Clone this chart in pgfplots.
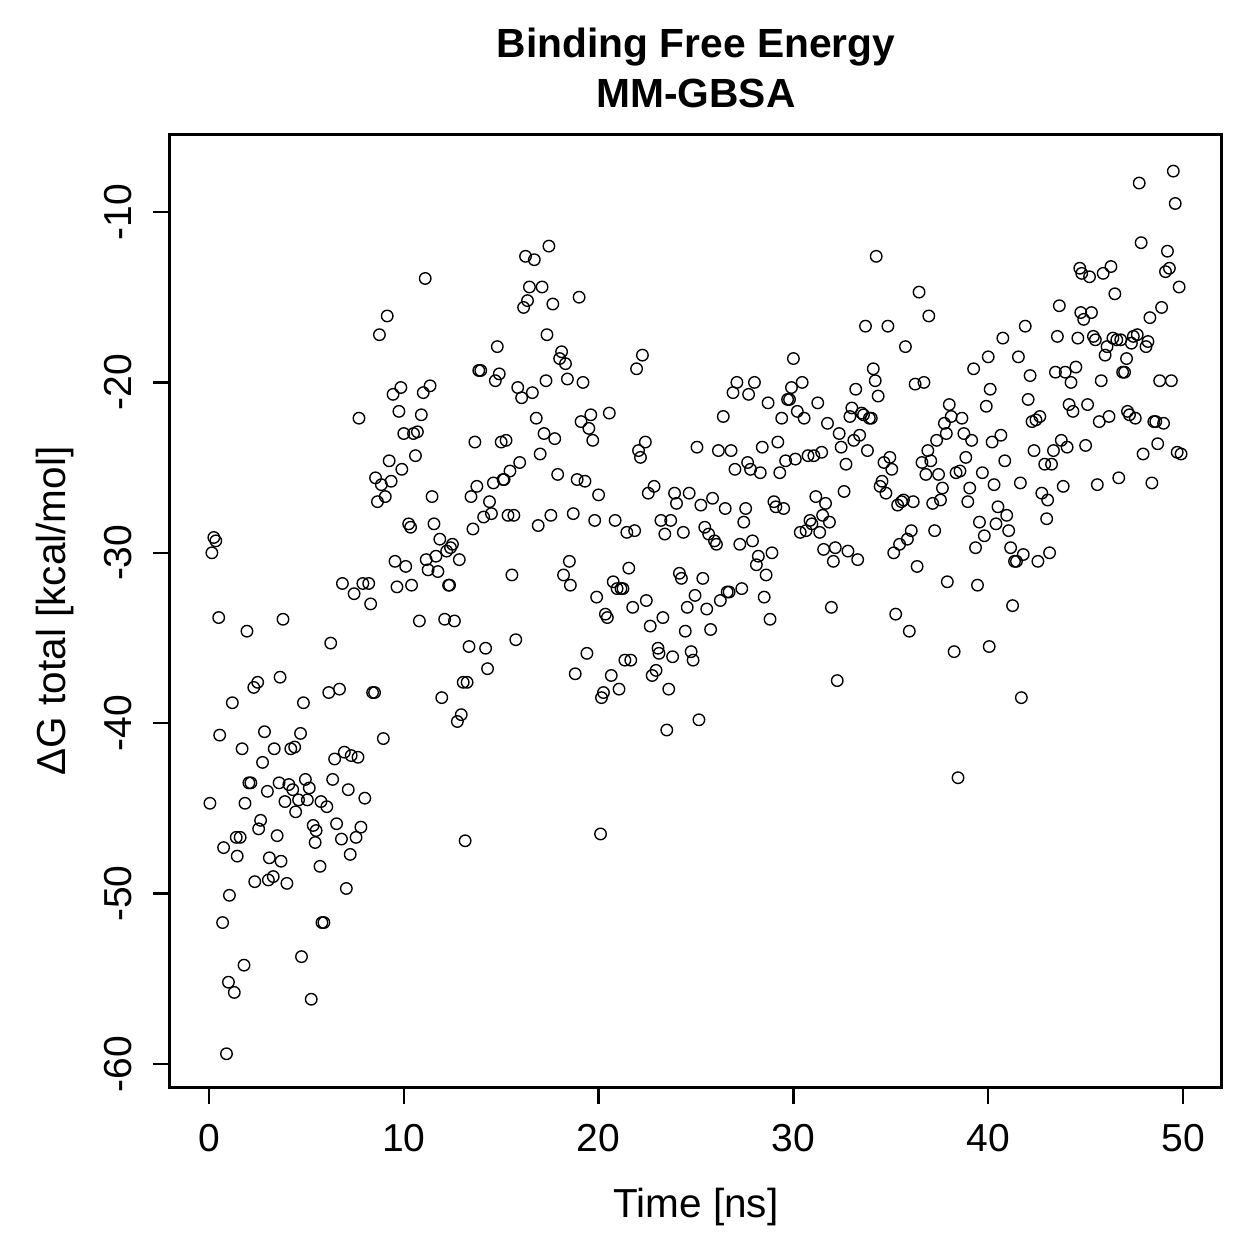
\documentclass[border=0pt]{standalone}
\usepackage{fontspec}
\setmainfont{Liberation Sans}
\usepackage{pgfplots}
\pgfplotsset{compat=1.18}
\usepackage{pgfplotstable}

% MM-GBSA binding free energy per frame: time [ns], Delta G total [kcal/mol]
\pgfplotstableread{
t dg
0.05 -44.7
0.15 -30.0
0.25 -29.1
0.35 -29.3
0.5 -33.8
0.55 -40.7
0.7 -51.7
0.75 -47.3
0.9 -59.4
1.0 -55.2
1.05 -50.1
1.2 -38.8
1.3 -55.8
1.4 -46.7
1.45 -47.8
1.6 -46.7
1.7 -41.5
1.8 -54.2
1.85 -44.7
1.95 -34.6
2.05 -43.5
2.15 -43.5
2.3 -37.9
2.35 -49.3
2.5 -37.6
2.55 -46.2
2.65 -45.7
2.75 -42.3
2.85 -40.5
3.0 -44.0
3.05 -49.2
3.1 -47.9
3.3 -49.0
3.35 -41.5
3.5 -46.6
3.6 -43.5
3.65 -37.3
3.7 -48.1
3.8 -33.9
3.9 -44.6
4.0 -49.4
4.1 -43.6
4.2 -41.5
4.3 -43.9
4.4 -41.4
4.45 -45.2
4.6 -44.5
4.7 -40.6
4.75 -53.7
4.85 -38.8
4.95 -43.3
5.05 -44.5
5.15 -43.8
5.25 -56.2
5.35 -46.0
5.45 -47.0
5.5 -46.3
5.7 -48.4
5.75 -44.6
5.8 -51.7
5.9 -51.7
6.05 -44.9
6.15 -38.2
6.25 -35.3
6.35 -43.3
6.45 -42.1
6.55 -45.9
6.7 -38.0
6.8 -46.8
6.85 -31.8
6.95 -41.7
7.05 -49.7
7.15 -43.9
7.25 -47.7
7.3 -41.9
7.45 -32.4
7.55 -46.7
7.65 -42.0
7.7 -22.1
7.8 -46.1
7.9 -31.8
8.0 -44.4
8.2 -31.8
8.3 -33.0
8.4 -38.2
8.5 -38.2
8.55 -25.6
8.65 -27.0
8.75 -17.2
8.85 -26.0
8.95 -40.9
9.05 -26.7
9.15 -16.1
9.25 -24.6
9.35 -25.8
9.45 -20.7
9.55 -30.5
9.65 -32.0
9.75 -21.7
9.85 -20.3
9.9 -25.1
10.0 -23.0
10.1 -30.8
10.25 -28.3
10.35 -28.5
10.4 -31.9
10.5 -23.0
10.6 -24.3
10.7 -22.9
10.8 -34.0
10.9 -21.9
11.0 -20.6
11.1 -13.9
11.15 -30.4
11.25 -31.0
11.35 -20.2
11.45 -26.7
11.55 -28.3
11.65 -30.2
11.75 -31.1
11.85 -29.2
11.95 -38.5
12.1 -33.9
12.2 -29.9
12.3 -31.9
12.35 -31.9
12.4 -29.7
12.5 -29.5
12.6 -34.0
12.75 -39.9
12.85 -30.4
12.95 -39.5
13.05 -37.6
13.15 -46.9
13.25 -37.6
13.35 -35.5
13.45 -26.7
13.55 -28.6
13.65 -23.5
13.75 -26.1
13.85 -19.3
13.95 -19.3
14.1 -27.9
14.2 -35.6
14.3 -36.8
14.4 -27.0
14.5 -27.7
14.6 -25.9
14.7 -19.9
14.8 -17.9
14.9 -19.5
15.0 -23.5
15.1 -25.7
15.15 -25.7
15.25 -23.4
15.35 -27.8
15.45 -25.2
15.55 -31.3
15.65 -27.8
15.75 -35.1
15.85 -20.3
15.95 -24.7
16.05 -20.9
16.15 -15.6
16.25 -12.6
16.35 -15.2
16.45 -14.4
16.6 -20.6
16.7 -12.8
16.8 -22.1
16.9 -28.4
17.0 -24.2
17.1 -14.4
17.2 -23.0
17.3 -19.9
17.35 -17.2
17.45 -12.0
17.55 -27.8
17.65 -15.4
17.75 -23.3
17.9 -25.4
18.0 -18.6
18.1 -18.2
18.2 -31.3
18.3 -18.9
18.4 -19.8
18.5 -30.5
18.55 -31.9
18.7 -27.7
18.8 -37.1
18.9 -25.7
19.0 -15.0
19.1 -22.3
19.2 -20.0
19.3 -25.8
19.4 -35.9
19.5 -22.7
19.6 -21.9
19.7 -23.4
19.8 -28.1
19.9 -32.6
20.0 -26.6
20.1 -46.5
20.15 -38.5
20.25 -38.2
20.35 -33.6
20.45 -33.8
20.55 -21.8
20.65 -37.2
20.75 -31.7
20.85 -28.1
20.95 -32.1
21.05 -38.0
21.15 -32.1
21.25 -32.1
21.35 -36.3
21.45 -28.8
21.55 -30.9
21.65 -36.3
21.75 -33.2
21.85 -28.7
21.95 -19.2
22.05 -24.0
22.15 -24.4
22.25 -18.4
22.4 -23.5
22.45 -32.8
22.55 -26.5
22.65 -34.3
22.75 -37.2
22.85 -26.1
22.95 -36.9
23.05 -35.6
23.1 -35.9
23.2 -28.1
23.3 -33.8
23.4 -28.9
23.5 -40.4
23.6 -38.0
23.7 -28.1
23.8 -36.1
23.9 -26.5
24.0 -27.1
24.15 -31.2
24.25 -31.5
24.35 -28.8
24.45 -34.6
24.55 -33.2
24.65 -26.5
24.75 -35.8
24.85 -36.3
24.95 -32.5
25.05 -23.8
25.15 -39.8
25.25 -27.2
25.35 -31.5
25.45 -28.5
25.55 -33.3
25.65 -28.9
25.75 -34.5
25.85 -26.8
25.95 -29.3
26.05 -29.5
26.15 -24.0
26.25 -32.8
26.4 -22.0
26.5 -27.4
26.6 -32.3
26.7 -32.3
26.8 -24.0
26.9 -20.6
27.0 -25.1
27.1 -20.0
27.25 -29.5
27.35 -32.1
27.45 -28.2
27.55 -27.4
27.65 -24.7
27.7 -20.7
27.8 -25.1
27.9 -29.3
28.0 -20.0
28.1 -30.7
28.2 -30.2
28.3 -25.3
28.4 -23.8
28.5 -32.6
28.6 -31.3
28.7 -21.2
28.8 -33.9
28.9 -30.0
29.0 -27.0
29.1 -27.3
29.2 -23.5
29.3 -25.3
29.4 -22.1
29.5 -27.4
29.6 -24.6
29.7 -21.0
29.8 -21.0
29.9 -20.3
30.0 -18.6
30.1 -24.5
30.2 -21.7
30.35 -28.8
30.45 -20.0
30.55 -22.1
30.65 -28.7
30.75 -24.3
30.85 -28.1
30.95 -28.3
31.05 -24.3
31.15 -26.7
31.25 -21.2
31.35 -28.8
31.45 -24.1
31.5 -27.8
31.55 -29.8
31.65 -27.1
31.75 -22.4
31.85 -28.2
31.95 -33.2
32.05 -30.5
32.15 -29.7
32.25 -37.5
32.35 -23.0
32.45 -23.8
32.6 -26.4
32.7 -24.8
32.8 -29.9
32.9 -22.0
33.0 -21.5
33.1 -23.4
33.2 -20.4
33.3 -30.4
33.4 -23.1
33.5 -21.8
33.6 -21.9
33.7 -16.7
33.8 -24.0
33.9 -22.1
34.0 -22.1
34.1 -19.2
34.2 -19.9
34.25 -12.6
34.35 -20.8
34.45 -26.1
34.55 -25.8
34.65 -24.7
34.75 -26.5
34.85 -16.7
34.95 -24.4
35.05 -25.1
35.15 -30.0
35.25 -33.6
35.35 -27.2
35.45 -29.5
35.55 -27.0
35.65 -26.9
35.75 -17.9
35.85 -29.2
35.95 -34.6
36.05 -28.7
36.15 -27.0
36.25 -20.1
36.35 -30.8
36.45 -14.7
36.6 -24.7
36.7 -20.0
36.8 -25.4
36.9 -24.0
36.95 -16.1
37.05 -24.6
37.15 -27.1
37.25 -28.7
37.35 -23.4
37.45 -25.4
37.55 -26.9
37.65 -26.2
37.75 -22.4
37.85 -23.0
37.9 -31.7
38.0 -21.3
38.1 -22.0
38.25 -35.8
38.35 -25.3
38.45 -43.2
38.55 -25.2
38.65 -22.1
38.75 -23.0
38.85 -24.4
38.95 -27.0
39.05 -26.2
39.15 -23.4
39.25 -19.2
39.35 -29.7
39.45 -31.9
39.55 -28.2
39.7 -25.3
39.8 -29.0
39.9 -21.4
40.0 -18.5
40.05 -35.5
40.1 -20.4
40.2 -23.5
40.3 -26.0
40.4 -28.3
40.5 -27.3
40.65 -23.1
40.75 -17.4
40.85 -24.6
40.95 -27.8
41.05 -28.7
41.15 -29.7
41.25 -33.1
41.35 -30.5
41.45 -30.5
41.55 -18.5
41.65 -25.9
41.7 -38.5
41.8 -30.1
41.9 -16.7
42.05 -21.0
42.15 -19.6
42.25 -22.3
42.35 -24.0
42.45 -22.2
42.55 -30.5
42.65 -22.0
42.75 -26.5
42.9 -24.8
43.0 -28.0
43.05 -26.9
43.15 -30.0
43.25 -24.8
43.35 -24.0
43.45 -19.4
43.55 -17.3
43.65 -15.5
43.75 -23.4
43.85 -26.1
43.95 -19.4
44.05 -23.8
44.15 -21.3
44.25 -20.0
44.35 -21.7
44.5 -19.1
44.6 -17.4
44.7 -13.3
44.75 -15.9
44.8 -13.6
44.9 -16.3
45.0 -23.7
45.1 -21.3
45.2 -13.8
45.3 -15.9
45.4 -17.3
45.5 -17.5
45.6 -26.0
45.7 -22.3
45.8 -19.9
45.9 -13.6
46.0 -18.4
46.1 -17.9
46.2 -22.0
46.3 -13.2
46.4 -17.4
46.5 -14.8
46.6 -17.5
46.7 -25.6
46.8 -17.5
46.9 -19.4
47.0 -19.4
47.1 -18.6
47.15 -21.7
47.25 -21.9
47.35 -17.7
47.45 -17.3
47.55 -22.1
47.65 -17.2
47.75 -8.3
47.85 -11.8
47.95 -24.2
48.1 -17.9
48.2 -17.6
48.3 -16.2
48.4 -25.9
48.5 -22.3
48.6 -22.3
48.7 -23.6
48.8 -19.9
48.9 -15.6
49.0 -22.4
49.1 -13.5
49.2 -12.3
49.3 -13.3
49.4 -19.9
49.5 -7.6
49.6 -9.5
49.7 -24.1
49.8 -14.4
49.9 -24.2
}\gbsa

\begin{document}
\begin{tikzpicture}
\path[use as bounding box] (-68pt,-68.8pt) rectangle (435.6pt,434.8pt);
\begin{axis}[
  at={(0,0)}, anchor=south west,
  scale only axis, width=420.8pt, height=380.8pt,
  xmin=-2, xmax=52, ymin=-61.35, ymax=-5.48,
  xtick={0,10,20,30,40,50},
  ytick={-60,-50,-40,-30,-20,-10},
  tick align=outside,
  xtick pos=bottom, ytick pos=left,
  major tick length=6.8pt,
  axis line style={line width=1.2pt},
  tick style={line width=1pt, black},
  /pgf/number format/assume math mode=true,
  ticklabel style={font=\fontsize{15.6}{19}\selectfont},
  xticklabel style={anchor=base, inner sep=0pt, yshift=-18.8pt},
  yticklabel style={xshift=-8.4pt, rotate=90, anchor=base, inner sep=0pt},
  every axis x label/.style={at={(axis description cs:0.5,-0.1376)}, anchor=base,
    font=\fontsize{16.2}{19}\selectfont},
  every axis y label/.style={at={(axis description cs:-0.0989,0.5)}, rotate=90, anchor=base,
    font=\fontsize{16.2}{19}\selectfont},
  xlabel={Time [ns]},
  ylabel={ΔG total [kcal/mol]},
  title={Binding Free Energy\\MM-GBSA},
  title style={at={(axis description cs:0.5,1)}, anchor=south, inner sep=0pt,
    yshift=4.8pt, align=center, font=\fontsize{16.3}{19.8}\selectfont\bfseries},
]
\addplot[only marks, mark=o, mark size=2.3pt, mark options={line width=0.55pt, black}]
  table[x=t, y=dg] {\gbsa};
\end{axis}
\end{tikzpicture}
\end{document}
